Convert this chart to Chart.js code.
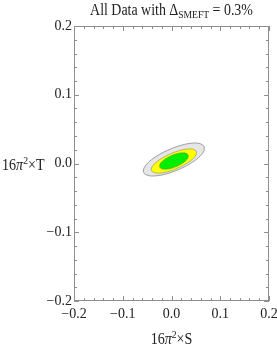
<!DOCTYPE html>
<html>
<head>
<meta charset="utf-8">
<script src="https://cdn.jsdelivr.net/npm/chart.js@4/dist/chart.umd.min.js"></script>
<style>
  html, body { margin: 0; padding: 0; background: #fff; }
  #wrap { width: 277px; height: 347px; position: relative; }
</style>
</head>
<body>
<div id="wrap"><canvas id="chart"></canvas></div>
<script>
// contours (16π²×S, 16π²×T)
const grayS = [0.0674, 0.0660, 0.0554, 0.0371, 0.0139, -0.0106, -0.0327, -0.0491, -0.0572, -0.0558, -0.0452, -0.0269, -0.0037, 0.0208, 0.0429, 0.0593, 0.0674];
const grayT = [0.0246, 0.0175, 0.0086, -0.0007, -0.0090, -0.0151, -0.0180, -0.0172, -0.0130, -0.0059, 0.0030, 0.0123, 0.0206, 0.0267, 0.0296, 0.0288, 0.0246];
const yellowS = [0.0514, 0.0503, 0.0424, 0.0287, 0.0115, -0.0067, -0.0231, -0.0352, -0.0412, -0.0401, -0.0322, -0.0185, -0.0013, 0.0169, 0.0333, 0.0454, 0.0514];
const yellowT = [0.0176, 0.0124, 0.0059, -0.0009, -0.0071, -0.0117, -0.0139, -0.0134, -0.0104, -0.0052, 0.0013, 0.0081, 0.0143, 0.0189, 0.0211, 0.0206, 0.0176];
const greenS = [0.0344, 0.0340, 0.0292, 0.0207, 0.0099, -0.0017, -0.0122, -0.0201, -0.0242, -0.0238, -0.0190, -0.0105, 0.0003, 0.0119, 0.0224, 0.0303, 0.0344];
const greenT = [0.0124, 0.0086, 0.0041, -0.0005, -0.0045, -0.0073, -0.0083, -0.0076, -0.0052, -0.0014, 0.0031, 0.0077, 0.0117, 0.0145, 0.0156, 0.0148, 0.0124];

const majorTicks = [-0.2, -0.1, 0.0, 0.1, 0.2];
const minorTicks = [-0.18, -0.16, -0.14, -0.12, -0.08, -0.06, -0.04, -0.02, 0.02, 0.04, 0.06, 0.08, 0.12, 0.14, 0.16, 0.18];

const SERIF = '"Liberation Serif", "DejaVu Serif", serif';

function toPoints(xs, ys) {
    return xs.map((x, i) => ({ x: x, y: ys[i] }));
}

function fmt(v) {
    return Number(v).toFixed(1).replace('-', '\u2212');
}

// text made of several pieces (normal, sub/superscript, italic), squeezed a bit
function richText(ctx, parts, x, y, align, squeeze) {
    let total = 0;
    parts.forEach(p => {
        ctx.font = (p.italic ? 'italic ' : '') + p.size + 'px ' + SERIF;
        p.w = ctx.measureText(p.t).width;
        total += p.w;
    });
    total *= squeeze;
    ctx.save();
    ctx.translate(align === 'center' ? x - total / 2 : x, y);
    ctx.scale(squeeze, 1);
    let cx = 0;
    parts.forEach(p => {
        ctx.font = (p.italic ? 'italic ' : '') + p.size + 'px ' + SERIF;
        ctx.fillText(p.t, cx, p.dy || 0);
        cx += p.w;
    });
    ctx.restore();
}

const framePlugin = {
    id: 'frame',
    afterDatasetsDraw(chart) {
        const ctx = chart.ctx;
        const a = chart.chartArea;
        const xs = chart.scales.x, ys = chart.scales.y;
        ctx.save();
        ctx.strokeStyle = '#8e8e8e';
        ctx.lineWidth = 1;
        ctx.strokeRect(a.left + 0.5, a.top + 0.5, a.right - a.left - 1, a.bottom - a.top - 1);

        ctx.beginPath();
        const tick = (v, len) => {
            const px = Math.round(xs.getPixelForValue(v)) + 0.5;
            ctx.moveTo(px, a.bottom); ctx.lineTo(px, a.bottom - len);
            ctx.moveTo(px, a.top); ctx.lineTo(px, a.top + len);
            const py = Math.round(ys.getPixelForValue(v)) + 0.5;
            ctx.moveTo(a.left, py); ctx.lineTo(a.left + len, py);
            ctx.moveTo(a.right, py); ctx.lineTo(a.right - len, py);
        };
        majorTicks.forEach(v => tick(v, 5));
        minorTicks.forEach(v => tick(v, 3));
        ctx.stroke();

        ctx.fillStyle = '#222';
        ctx.textBaseline = 'alphabetic';
        ctx.textAlign = 'left';
        const cx = (a.left + a.right) / 2;
        richText(ctx, [
            { t: 'All Data with \u0394', size: 16 },
            { t: 'SMEFT', size: 11, dy: 3 },
            { t: ' = 0.3%', size: 16 }
        ], cx, 15, 'center', 0.87);
        richText(ctx, [
            { t: '16', size: 16 },
            { t: '\u03c0', size: 16, italic: true },
            { t: '2', size: 11, dy: -6 },
            { t: '\u00d7S', size: 16 }
        ], cx, 344, 'center', 0.88);
        richText(ctx, [
            { t: '16', size: 16 },
            { t: '\u03c0', size: 16, italic: true },
            { t: '2', size: 11, dy: -6 },
            { t: '\u00d7T', size: 16 }
        ], 2, 170, 'left', 0.88);
        ctx.restore();
    }
};

function makeSet(xs, ys, fillColor, lineColor) {
    return {
        data: toPoints(xs, ys),
        showLine: true,
        fill: 'shape',
        backgroundColor: fillColor,
        borderColor: lineColor,
        borderWidth: 0.8,
        pointRadius: 0,
        tension: 0.4
    };
}

const ctx = document.getElementById('chart').getContext('2d');
new Chart(ctx, {
    type: 'scatter',
    data: {
        datasets: [
            makeSet(greenS, greenT, '#00ee00', 'rgba(110,110,110,0.5)'),
            makeSet(yellowS, yellowT, '#ffff00', 'rgba(110,110,110,0.6)'),
            makeSet(grayS, grayT, '#e6e6e6', 'rgba(110,110,110,0.8)')
        ]
    },
    options: {
        responsive: true,
        maintainAspectRatio: false,
        animation: false,
        layout: { padding: { top: 26, right: 8, left: 0, bottom: 0 } },
        plugins: { legend: { display: false }, tooltip: { enabled: false } },
        scales: {
            x: {
                type: 'linear', min: -0.2, max: 0.2,
                grid: { display: false, drawTicks: false },
                border: { display: false },
                ticks: { stepSize: 0.1, padding: 5, color: '#222', font: { family: SERIF, size: 14 }, callback: fmt },
                afterFit: s => { s.height = 46; s.paddingLeft = 0; s.paddingRight = 0; }
            },
            y: {
                type: 'linear', min: -0.2, max: 0.2,
                grid: { display: false, drawTicks: false },
                border: { display: false },
                ticks: { stepSize: 0.1, padding: 2, color: '#222', font: { family: SERIF, size: 14 }, callback: fmt },
                afterFit: s => { s.width = 74; s.paddingTop = 0; s.paddingBottom = 0; }
            }
        }
    },
    plugins: [framePlugin]
});
</script>
</body>
</html>
